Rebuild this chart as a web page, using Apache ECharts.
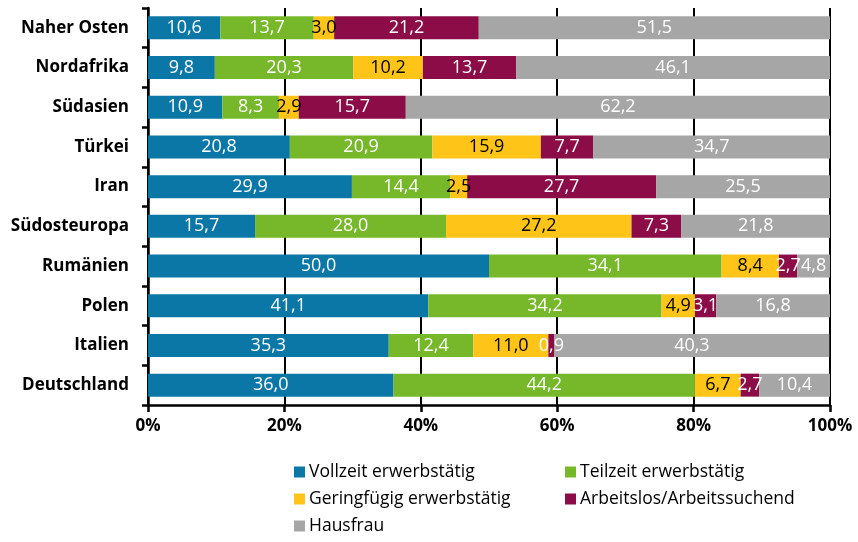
<!DOCTYPE html>
<html>
<head>
<meta charset="utf-8">
<script src="https://cdn.jsdelivr.net/npm/echarts@6/dist/echarts.min.js"></script>
<style>
  html, body { margin: 0; padding: 0; background: #fff; }
  #chart { width: 858px; height: 542px; }
</style>
</head>
<body>
<div id="chart"></div>
<script>
// Herkunftsregionen (von oben nach unten)
const categories = ['Naher Osten', 'Nordafrika', 'Südasien', 'Türkei', 'Iran',
  'Südosteuropa', 'Rumänien', 'Polen', 'Italien', 'Deutschland'];

// Anteile in Prozent je Erwerbsstatus
const vollzeit    = [10.6, 9.8, 10.9, 20.8, 29.9, 15.7, 50.0, 41.1, 35.3, 36.0];
const teilzeit    = [13.7, 20.3, 8.3, 20.9, 14.4, 28.0, 34.1, 34.2, 12.4, 44.2];
const geringfuegig = [3.0, 10.2, 2.9, 15.9, 2.5, 27.2, 8.4, 4.9, 11.0, 6.7];
const arbeitslos  = [21.2, 13.7, 15.7, 7.7, 27.7, 7.3, 2.7, 3.1, 0.9, 2.7];
const hausfrau    = [51.5, 46.1, 62.2, 34.7, 25.5, 21.8, 4.8, 16.8, 40.3, 10.4];

const xTicks = [0, 20, 40, 60, 80, 100];

const seriesDefs = [
  { name: 'Vollzeit erwerbstätig', data: vollzeit, color: '#0b77a6', text: '#ffffff' },
  { name: 'Teilzeit erwerbstätig', data: teilzeit, color: '#76b82a', text: '#ffffff' },
  { name: 'Geringfügig erwerbstätig', data: geringfuegig, color: '#fec518', text: '#000000' },
  { name: 'Arbeitslos/Arbeitssuchend', data: arbeitslos, color: '#8b0c47', text: '#ffffff' },
  { name: 'Hausfrau', data: hausfrau, color: '#a6a6a6', text: '#ffffff' }
];

const FONT = 'Open Sans';
const fmt = v => v.toFixed(1).replace('.', ',');

const series = seriesDefs.map(s => ({
  name: s.name,
  type: 'bar',
  stack: 'gesamt',
  barWidth: 23,
  data: s.data,
  itemStyle: { color: s.color },
  label: {
    show: true,
    position: 'inside',
    color: s.text,
    fontFamily: FONT,
    fontSize: 18,
    formatter: p => fmt(p.value)
  },
  emphasis: { disabled: true },
  z: 3
}));

// Legend entries placed individually in two columns
const legendPos = [
  { left: 294, top: 463 },
  { left: 565, top: 463 },
  { left: 294, top: 490 },
  { left: 565, top: 490 },
  { left: 294, top: 517 }
];
const legend = seriesDefs.map((s, i) => ({
  data: [s.name],
  left: legendPos[i].left,
  top: legendPos[i].top,
  itemWidth: 11,
  itemHeight: 11,
  itemGap: 0,
  icon: 'rect',
  padding: 0,
  textStyle: { fontFamily: FONT, fontSize: 17.5, color: '#000', padding: [0, 0, 0, -1] },
  selectedMode: false
}));

const chart = echarts.init(document.getElementById('chart'), null, { renderer: 'canvas' });
chart.setOption({
  animation: false,
  backgroundColor: '#ffffff',
  grid: { left: 148, right: 28, top: 8, bottom: 137, containLabel: false },
  legend: legend,
  xAxis: {
    type: 'value',
    min: xTicks[0],
    max: xTicks[xTicks.length - 1],
    interval: 20,
    axisLine: { show: true, lineStyle: { color: '#000', width: 2.5 } },
    axisTick: { show: true, length: 7, lineStyle: { color: '#000', width: 2.5 } },
    splitLine: { show: true, lineStyle: { color: '#000', width: 2 } },
    axisLabel: {
      formatter: '{value}%',
      fontFamily: FONT,
      fontWeight: 'bold',
      fontSize: 17,
      color: '#000',
      margin: 13
    }
  },
  yAxis: {
    type: 'category',
    data: categories,
    inverse: true,
    axisLine: { show: true, lineStyle: { color: '#000', width: 2.5 } },
    axisTick: { show: true, length: 6, alignWithLabel: false, lineStyle: { color: '#000', width: 2.5 } },
    axisLabel: {
      fontFamily: FONT,
      fontWeight: 'bold',
      fontSize: 17,
      color: '#000',
      margin: 19
    }
  },
  series: series
});
</script>
</body>
</html>
